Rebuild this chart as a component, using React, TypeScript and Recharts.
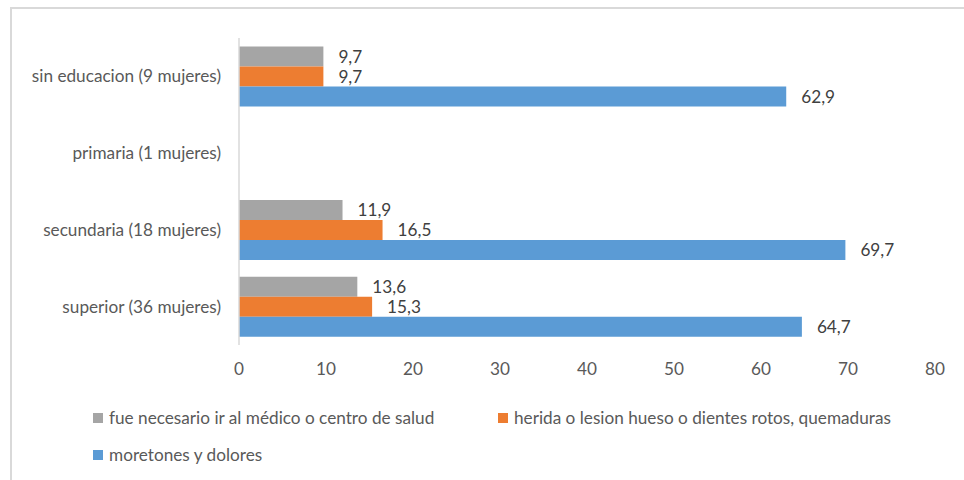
import { BarChart, Bar, XAxis, YAxis, LabelList } from 'recharts';

const categories = [
  'sin educacion (9 mujeres)',
  'primaria (1 mujeres)',
  'secundaria (18 mujeres)',
  'superior (36 mujeres)',
];
const medico = [9.7, null, 11.9, 13.6];
const herida = [9.7, null, 16.5, 15.3];
const moretones = [62.9, null, 69.7, 64.7];
const xTicks = [0, 10, 20, 30, 40, 50, 60, 70, 80];

const seriesNames = [
  'fue necesario ir al médico o centro de salud',
  'herida o lesion hueso o dientes rotos, quemaduras',
  'moretones y dolores',
];
const colors = ['#a5a5a5', '#ed7d31', '#5b9bd5'];

const data = categories.map((c, i) => ({
  category: c,
  s0: medico[i],
  s1: herida[i],
  s2: moretones[i],
}));

const FONT = 'Lato, "Open Sans", sans-serif';
const FS = 17.2;

const fmt = (v: any) => (v == null ? '' : String(v).replace('.', ','));

// legend spots, like the original two-column wrap
const legendPos = [
  { left: 93, top: 407 },
  { left: 498, top: 407 },
  { left: 93, top: 444 },
];

export default function App() {
  return (
    <div style={{ position: 'absolute', left: 0, top: 0, width: 964, height: 480, background: '#fff', overflow: 'hidden' }}>
      <div
        style={{
          position: 'absolute',
          left: 10,
          top: 7,
          width: 1000,
          height: 500,
          border: '2px solid #d9d9d9',
        }}
      />
      <BarChart
        width={964}
        height={480}
        data={data}
        layout="vertical"
        margin={{ top: 38, right: 29, bottom: 105, left: 0 }}
        barCategoryGap="11%"
        barGap={0}
        style={{ position: 'absolute', left: 0, top: 0 }}
      >
        <XAxis
          type="number"
          domain={[0, 80]}
          ticks={xTicks}
          axisLine={false}
          tickLine={false}
          tickMargin={12}
          tick={{ fill: '#595959', fontSize: FS, fontFamily: FONT }}
        />
        <YAxis
          type="category"
          dataKey="category"
          width={239}
          axisLine={{ stroke: '#d9d9d9', strokeWidth: 1.5 }}
          tickLine={false}
          tickMargin={12}
          tick={{ fill: '#595959', fontSize: FS, fontFamily: FONT }}
        />
        {['s0', 's1', 's2'].map((k, i) => (
          <Bar key={k} dataKey={k} name={seriesNames[i]} fill={colors[i]} isAnimationActive={false}>
            <LabelList
              dataKey={k}
              position="right"
              offset={15}
              formatter={fmt}
              style={{ fill: '#404040', fontSize: FS, fontFamily: FONT }}
            />
          </Bar>
        ))}
      </BarChart>
      {seriesNames.map((name, i) => (
        <div
          key={name}
          style={{
            position: 'absolute',
            left: legendPos[i].left,
            top: legendPos[i].top,
            display: 'flex',
            alignItems: 'center',
            fontFamily: FONT,
            fontSize: FS,
            color: '#595959',
            whiteSpace: 'nowrap',
          }}
        >
          <span style={{ width: 10, height: 10, background: colors[i], marginRight: 6, display: 'inline-block' }} />
          {name}
        </div>
      ))}
    </div>
  );
}
